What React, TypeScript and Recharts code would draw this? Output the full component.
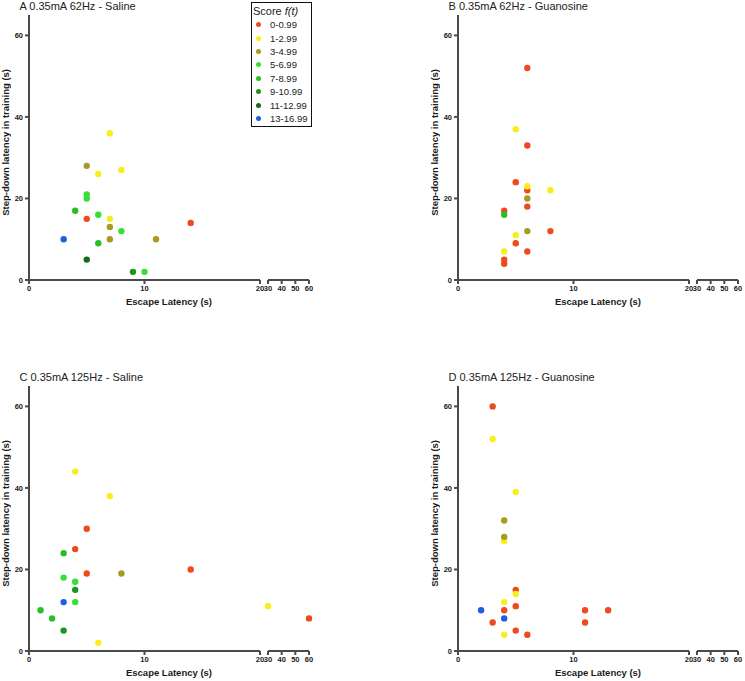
import React from 'react';
import { ScatterChart, Scatter, XAxis, YAxis } from 'recharts';

// score f(t) groups shown in the legend
const SCORE_GROUPS = ['0-0.99', '1-2.99', '3-4.99', '5-6.99', '7-8.99', '9-10.99', '11-12.99', '13-16.99'];
const SCORE_COLORS = ['#ee4a1d', '#f8ee1e', '#a89a22', '#33e033', '#26c026', '#1d951d', '#156b18', '#1e5ee0'];

const Y_TICKS = [0, 20, 40, 60];
const X_TICKS_LOW = [0, 10, 20];
const X_TICKS_HIGH = [30, 40, 50, 60];

// A 0.35mA 62Hz - Saline
const A_ESCAPE = [7, 5, 6, 8, 5, 5, 4, 6, 5, 7, 7, 8, 7, 11, 3, 6, 5, 9, 10, 14];
const A_STEPDOWN = [36, 28, 26, 27, 21, 20, 17, 16, 15, 15, 13, 12, 10, 10, 10, 9, 5, 2, 2, 14];
const A_SCORE = [1, 2, 1, 1, 3, 3, 4, 3, 0, 1, 2, 3, 2, 2, 7, 4, 6, 5, 3, 0];

// B 0.35mA 62Hz - Guanosine
const B_ESCAPE = [6, 5, 6, 5, 6, 6, 8, 6, 6, 4, 4, 6, 8, 5, 5, 4, 6, 4, 4];
const B_STEPDOWN = [52, 37, 33, 24, 23, 22, 22, 20, 18, 17, 16, 12, 12, 11, 9, 7, 7, 5, 4];
const B_SCORE = [0, 1, 0, 0, 1, 0, 1, 2, 0, 0, 4, 2, 0, 1, 0, 1, 0, 0, 0];

// C 0.35mA 125Hz - Saline
const C_ESCAPE = [4, 7, 5, 4, 3, 3, 5, 8, 14, 4, 4, 3, 4, 1, 2, 3, 6, 30, 60];
const C_STEPDOWN = [44, 38, 30, 25, 24, 18, 19, 19, 20, 17, 15, 12, 12, 10, 8, 5, 2, 11, 8];
const C_SCORE = [1, 1, 0, 0, 4, 3, 0, 2, 0, 3, 5, 7, 3, 4, 4, 5, 1, 1, 0];

// D 0.35mA 125Hz - Guanosine
const D_ESCAPE = [3, 3, 5, 4, 4, 4, 5, 5, 4, 2, 4, 5, 11, 13, 4, 3, 11, 5, 4, 6];
const D_STEPDOWN = [60, 52, 39, 32, 28, 27, 15, 14, 12, 10, 10, 11, 10, 10, 8, 7, 7, 5, 4, 4];
const D_SCORE = [0, 1, 1, 2, 2, 1, 0, 1, 1, 7, 0, 0, 0, 0, 7, 0, 0, 0, 1, 0];

const FONT = 'Arial, "Liberation Sans", Helvetica, sans-serif';
const AXIS_COLOR = '#4a4a4a';
const tickStyle = { fill: '#1a1a1a', fontSize: 7.5, fontWeight: 700, fontFamily: FONT };

type Pt = { x: number; y: number; s: number };

const dot = (color: string) => (props: any) => (
  <circle cx={props.cx} cy={props.cy} r={3.2} fill={color} />
);

function Panel({ title, escape, stepdown, score, axisX, plotTop }: {
  title: string; escape: number[]; stepdown: number[]; score: number[]; axisX: number; plotTop: number;
}) {
  const points: Pt[] = escape.map((x, i) => ({ x, y: stepdown[i], s: score[i] }));
  const low = points.filter(p => p.x <= 20);
  const high = points.filter(p => p.x >= 30);

  const series = (pts: Pt[], key: string) =>
    SCORE_GROUPS.map((g, gi) => {
      const d = pts.filter(p => p.s === gi);
      if (!d.length) return null;
      return (
        <Scatter
          key={key + gi}
          name={g}
          data={d}
          fill={SCORE_COLORS[gi]}
          shape={dot(SCORE_COLORS[gi])}
          isAnimationActive={false}
        />
      );
    });

  // empty right segment still needs its fixed domain to draw ticks
  const fixHigh = high.length === 0;

  return (
    <>
      <div style={{ position: 'absolute', left: axisX - 29, top: plotTop - 15 }}>
        <ScatterChart width={266} height={310} margin={{ top: 15, right: 6, bottom: 0, left: 0 }}>
          <XAxis
            type="number" dataKey="x" domain={[0, 20]} ticks={X_TICKS_LOW} height={30} interval={0}
            allowDataOverflow stroke={AXIS_COLOR} strokeWidth={2} tickSize={4} tick={tickStyle}
          />
          <YAxis
            type="number" dataKey="y" domain={[0, 65]} ticks={Y_TICKS} width={29} interval={0}
            allowDataOverflow stroke={AXIS_COLOR} strokeWidth={2} tickSize={4} tick={tickStyle}
          />
          {series(low, 'l')}
        </ScatterChart>
      </div>

      <div style={{ position: 'absolute', left: axisX + 231, top: plotTop - 15 }}>
        <ScatterChart width={56} height={310} margin={{ top: 15, right: 7, bottom: 0, left: 8 }}>
          <XAxis
            type="number" dataKey="x" domain={[30, 60]} ticks={X_TICKS_HIGH} height={30}
            allowDataOverflow={fixHigh} stroke={AXIS_COLOR} strokeWidth={2} tickSize={4} tick={tickStyle}
            interval={0}
          />
          <YAxis type="number" dataKey="y" domain={[0, 65]} allowDataOverflow={fixHigh} hide />
          {series(high, 'h')}
        </ScatterChart>
      </div>

      <div style={{
        position: 'absolute', left: axisX - 9.5, top: plotTop - 15, fontSize: 11,
        lineHeight: '13px', color: '#222', fontFamily: FONT, whiteSpace: 'nowrap',
      }}>{title}</div>

      <div style={{
        position: 'absolute', left: axisX + 40, width: 200, top: plotTop + 281, textAlign: 'center',
        fontSize: 9.5, fontWeight: 700, color: '#1a1a1a', fontFamily: FONT, lineHeight: '11px',
      }}>Escape Latency (s)</div>

      <div style={{
        position: 'absolute', left: axisX - 29, top: plotTop - 5, width: 11, height: 265,
        display: 'flex', alignItems: 'center', justifyContent: 'center',
      }}>
        <div style={{
          writingMode: 'vertical-rl', transform: 'rotate(180deg)', fontSize: 9.5, fontWeight: 700,
          color: '#1a1a1a', fontFamily: FONT, lineHeight: '11px', whiteSpace: 'nowrap',
        }}>Step-down latency in training (s)</div>
      </div>
    </>
  );
}

function ScoreLegend() {
  return (
    <div style={{
      position: 'absolute', left: 251, top: 2, width: 59, height: 123, border: '1.5px solid #111',
      background: '#fff', fontFamily: FONT, color: '#222', boxSizing: 'content-box',
    }}>
      <div style={{ fontSize: 11, lineHeight: '13px', marginLeft: 1, marginTop: 2, whiteSpace: 'nowrap' }}>
        Score <i>f(t)</i>
      </div>
      {SCORE_GROUPS.map((g, i) => (
        <div key={g} style={{ display: 'flex', alignItems: 'center', height: 13.4, whiteSpace: 'nowrap' }}>
          <span style={{
            display: 'inline-block', width: 5, height: 5, borderRadius: '50%',
            background: SCORE_COLORS[i], marginLeft: 4, marginRight: 9,
          }} />
          <span style={{ fontSize: 9.5 }}>{g}</span>
        </div>
      ))}
    </div>
  );
}

export default function App() {
  return (
    <div style={{ position: 'absolute', left: 0, top: 0, width: 745, height: 681, background: '#fff', overflow: 'hidden' }}>
      <Panel title="A 0.35mA 62Hz - Saline" escape={A_ESCAPE} stepdown={A_STEPDOWN} score={A_SCORE} axisX={29} plotTop={15} />
      <Panel title="B 0.35mA 62Hz - Guanosine" escape={B_ESCAPE} stepdown={B_STEPDOWN} score={B_SCORE} axisX={458} plotTop={15} />
      <Panel title="C 0.35mA 125Hz - Saline" escape={C_ESCAPE} stepdown={C_STEPDOWN} score={C_SCORE} axisX={29} plotTop={386} />
      <Panel title="D 0.35mA 125Hz - Guanosine" escape={D_ESCAPE} stepdown={D_STEPDOWN} score={D_SCORE} axisX={458} plotTop={386} />
      <ScoreLegend />
    </div>
  );
}
